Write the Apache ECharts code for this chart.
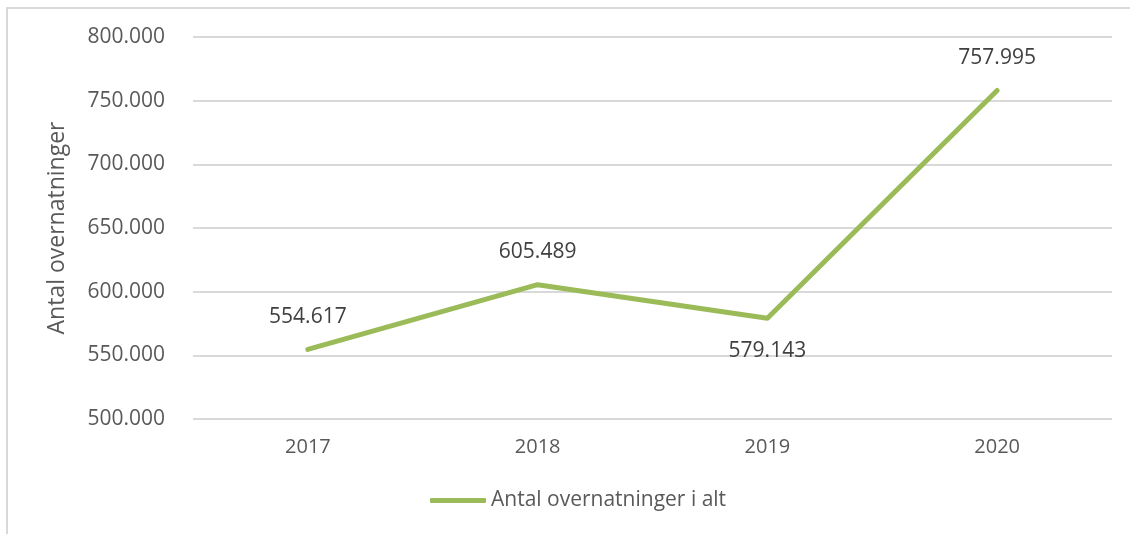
<!DOCTYPE html>
<html>
<head>
<meta charset="utf-8">
<script src="https://cdn.jsdelivr.net/npm/echarts@6/dist/echarts.min.js"></script>
<style>
  html, body { margin: 0; padding: 0; background: #fff; }
  #chart { width: 1130px; height: 534px; }
</style>
</head>
<body>
<div id="chart"></div>
<script>
// data
const years = ['2017', '2018', '2019', '2020']
const overnights = [554617, 605489, 579143, 757995]
const labelPos = ['top', 'top', 'bottom', 'top']
const seriesName = 'Antal overnatninger i alt'
const axisName = 'Antal overnatninger'

const textColor = '#595959'
const font = '"Open Sans", "Noto Sans", sans-serif'

function fmt(v) {
    // danish thousands separator
    return String(v).replace(/\B(?=(\d{3})+(?!\d))/g, '.')
}

let chart = echarts.init(document.getElementById('chart'))
const option = {
    animation: false,
    textStyle: { fontFamily: font },
    graphic: [{
        type: 'polyline',
        shape: { points: [[7, 534], [7, 8], [1130, 8]] },
        style: { stroke: '#d9d9d9', lineWidth: 2, fill: null },
        silent: true
    }],
    legend: {
        bottom: 18,
        left: 425,
        itemWidth: 56,
        itemHeight: 5,
        itemGap: 10,
        icon: 'roundRect',
        selectedMode: false,
        textStyle: { color: textColor, fontSize: 21, fontFamily: font },
        data: [seriesName]
    },
    grid: {
        left: 193,
        right: 18,
        top: 37,
        height: 382,
        containLabel: false
    },
    xAxis: {
        type: 'category',
        data: years,
        boundaryGap: true,
        axisLine: { show: false },
        axisTick: { show: false },
        axisLabel: { color: textColor, fontSize: 20, margin: 18, fontFamily: font }
    },
    yAxis: {
        type: 'value',
        min: 500000,
        max: 800000,
        interval: 50000,
        name: axisName,
        nameLocation: 'middle',
        nameGap: 124,
        nameTextStyle: { color: textColor, fontSize: 23, fontFamily: font },
        axisLine: { show: false },
        axisTick: { show: false },
        splitLine: { lineStyle: { color: '#d9d9d9', width: 2 } },
        axisLabel: {
            color: textColor,
            fontSize: 21,
            margin: 28,
            fontFamily: font,
            formatter: function (val) {
                return fmt(val)
            }
        }
    },
    series: [{
        name: seriesName,
        type: 'line',
        data: overnights.map(function (v, i) {
            return { value: v, label: { position: labelPos[i] } }
        }),
        color: '#9bbb59',
        showSymbol: true,
        symbol: 'circle',
        symbolSize: 0,
        lineStyle: { color: '#9bbb59', width: 5, cap: 'round', join: 'round' },
        label: {
            show: true,
            distance: 22,
            color: '#404040',
            fontSize: 21,
            fontFamily: font,
            formatter: function (p) {
                return fmt(p.value)
            }
        }
    }]
}
chart.setOption(option)
</script>
</body>
</html>
